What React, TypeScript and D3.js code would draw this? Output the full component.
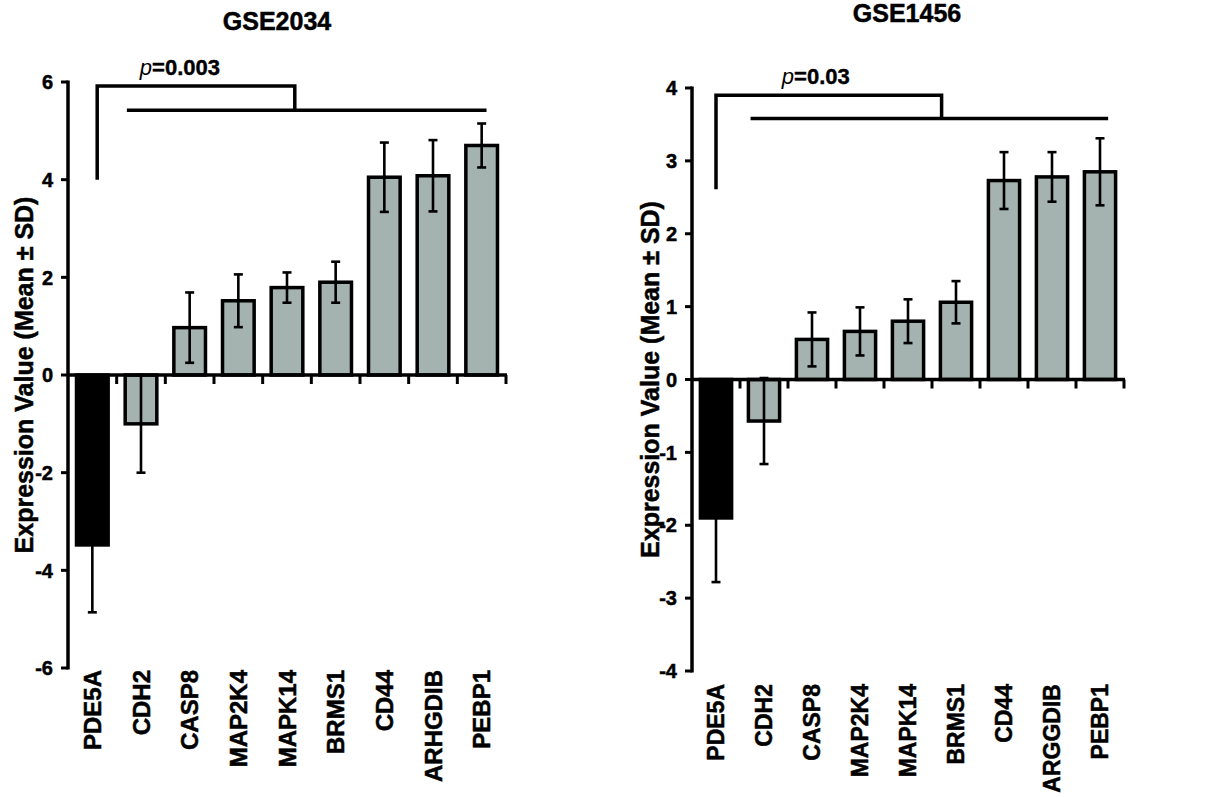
import React from 'react';
import * as d3 from 'd3';

// GSE2034 (left panel)
const genesA = ['PDE5A', 'CDH2', 'CASP8', 'MAP2K4', 'MAPK14', 'BRMS1', 'CD44', 'ARHGDIB', 'PEBP1'];
const meansA = [-3.48, -1.0, 0.97, 1.52, 1.79, 1.9, 4.05, 4.08, 4.7];
const sdA = [1.38, 1.0, 0.72, 0.54, 0.31, 0.42, 0.71, 0.73, 0.45];
const ticksA = [-6, -4, -2, 0, 2, 4, 6];

// GSE1456 (right panel)
const genesB = ['PDE5A', 'CDH2', 'CASP8', 'MAP2K4', 'MAPK14', 'BRMS1', 'CD44', 'ARGGDIB', 'PEBP1'];
const meansB = [-1.9, -0.57, 0.55, 0.66, 0.8, 1.06, 2.73, 2.78, 2.85];
const sdB = [0.88, 0.59, 0.37, 0.33, 0.3, 0.29, 0.39, 0.34, 0.46];
const ticksB = [-4, -3, -2, -1, 0, 1, 2, 3, 4];

const FONT = '"Liberation Sans", Arial, sans-serif';
const GREY = '#a4b2b0';

type PanelProps = {
  title: string;
  genes: string[];
  means: number[];
  sds: number[];
  ticks: number[];
  pText: string;
  x0: number;
  x1: number;
  yTop: number;
  yBot: number;
  titleX: number;
  titleY: number;
  yTitleX: number;
  labelY: number;
  labelSize: number;
  // bracket in band-index / data units
  br: { left: number; drop: number; start: number; end: number; low: number; high: number; inner: number; px: number; py: number };
};

const Panel = ({ title, genes, means, sds, ticks, pText, x0, x1, yTop, yBot, titleX, titleY, yTitleX, labelY, labelSize, br }: PanelProps) => {
  const dom = d3.extent(ticks) as [number, number];
  const y = d3.scaleLinear().domain(dom).range([yBot, yTop]);
  const x = d3.scaleBand().domain(genes).range([x0, x1]).paddingInner(0.35).paddingOuter(0.175);
  const idx = d3.scaleLinear().domain([0, genes.length]).range([x0, x1]);
  const bw = x.bandwidth();
  const y0 = y(0);

  return (
    <g fontFamily={FONT} fontWeight="bold" fill="#000">
      <g stroke="#000" strokeWidth={0.5}>
        <text x={titleX} y={titleY} textAnchor="middle" fontSize={25}>{title}</text>
        {ticks.map((t) => (
          <text key={t} x={x0 - 15} y={y(t)} dy="0.36em" textAnchor="end" fontSize={20}>{t}</text>
        ))}
        <text
          transform={`translate(${yTitleX},${(yTop + yBot) / 2}) rotate(-90)`}
          textAnchor="middle"
          dy="0.35em"
          fontSize={25}
        >
          Expression Value (Mean ± SD)
        </text>
        {genes.map((g) => (
          <text key={g}
            transform={`translate(${(x(g) as number) + bw / 2},${labelY}) rotate(-90)`}
            textAnchor="end" dy="0.36em" fontSize={labelSize}>
            {g}
          </text>
        ))}
      </g>

      {/* y axis */}
      <line x1={x0} x2={x0} y1={yTop - 1.5} y2={yBot + 1.5} stroke="#000" strokeWidth={3.5} />
      {ticks.map((t) => (
        <line key={t} x1={x0 - 7} x2={x0} y1={y(t)} y2={y(t)} stroke="#000" strokeWidth={3} />
      ))}

      {/* bars */}
      {genes.map((g, i) => {
        const v = means[i];
        const top = y(Math.max(0, v));
        const h = Math.abs(y(v) - y0);
        return (
          <rect key={g} x={x(g)} y={top} width={bw} height={h}
            fill={i === 0 ? '#000' : GREY} stroke="#000" strokeWidth={3.5} />
        );
      })}

      {/* error bars */}
      {genes.map((g, i) => {
        const cx = (x(g) as number) + bw / 2;
        const lo = y(means[i] - sds[i]);
        const hi = y(means[i] + sds[i]);
        return (
          <g key={g} stroke="#000" strokeWidth={2.6}>
            <line x1={cx} x2={cx} y1={lo} y2={hi} />
            <line x1={cx - 4.5} x2={cx + 4.5} y1={lo} y2={lo} />
            <line x1={cx - 4.5} x2={cx + 4.5} y1={hi} y2={hi} />
          </g>
        );
      })}

      {/* x axis at zero */}
      <line x1={x0} x2={x1 + 1} y1={y0} y2={y0} stroke="#000" strokeWidth={3.5} />
      {d3.range(1, genes.length + 1).map((i) => (
        <line key={i} x1={idx(i)} x2={idx(i)} y1={y0} y2={y0 + 9} stroke="#000" strokeWidth={3} />
      ))}

      {/* significance bracket */}
      <path
        d={`M${idx(br.left)},${y(br.low)}V${y(br.high)}H${idx(br.drop)}V${y(br.inner)}`}
        fill="none" stroke="#000" strokeWidth={3.5}
      />
      <line x1={idx(br.start)} x2={idx(br.end)} y1={y(br.inner)} y2={y(br.inner)} stroke="#000" strokeWidth={3.5} />
      <text x={idx(br.px)} y={y(br.py)} textAnchor="middle" fontSize={22} stroke="#000" strokeWidth={0.4}>
        <tspan fontStyle="italic" fontWeight="normal" strokeWidth={0}>p</tspan>={pText}
      </text>
    </g>
  );
};

export default function App() {
  return (
    <svg width={1216} height={797} style={{ position: 'absolute', left: 0, top: 0, background: '#fff' }}>
      <Panel
        title="GSE2034" genes={genesA} means={meansA} sds={sdA} ticks={ticksA} pText="0.003"
        x0={68} x1={506} yTop={82} yBot={668} titleX={277} titleY={30} yTitleX={24}
        labelY={670} labelSize={24}
        br={{ left: 0.6, drop: 4.66, start: 1.21, end: 8.6, low: 4, high: 5.92, inner: 5.42, px: 2.3, py: 6.15 }}
      />
      <Panel
        title="GSE1456" genes={genesB} means={meansB} sds={sdB} ticks={ticksB} pText="0.03"
        x0={692} x1={1124} yTop={88} yBot={671} titleX={907} titleY={22} yTitleX={650}
        labelY={684} labelSize={23}
        br={{ left: 0.5, drop: 5.2, start: 1.22, end: 8.67, low: 2.61, high: 3.9, inner: 3.58, px: 2.58, py: 4.05 }}
      />
    </svg>
  );
}
